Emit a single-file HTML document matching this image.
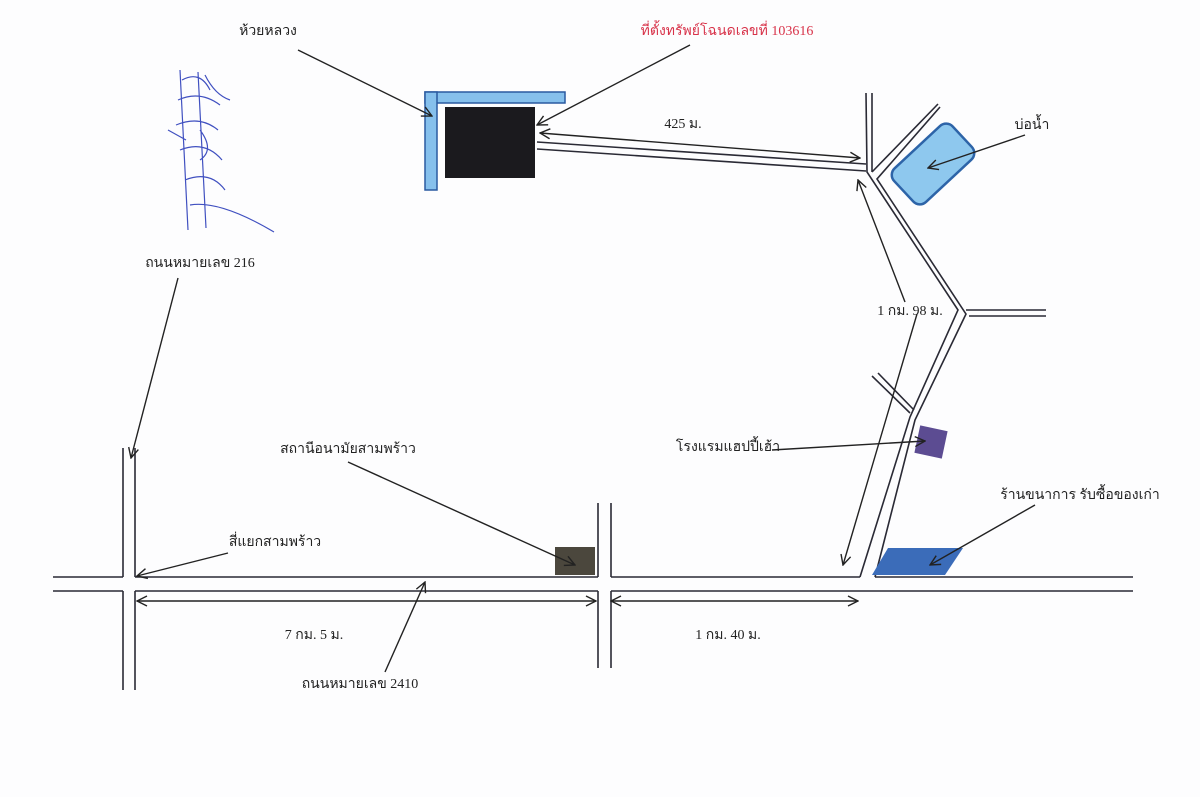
<!DOCTYPE html>
<html><head><meta charset="utf-8"><style>
html,body{margin:0;padding:0;background:#fdfdfe;}
svg{display:block}
text{font-family:"Liberation Serif","Noto Sans CJK SC",serif;font-size:14px;fill:#222}
</style></head><body>
<svg width="1200" height="797" viewBox="0 0 1200 797" xmlns="http://www.w3.org/2000/svg">
<defs>
<marker id="a" viewBox="0 0 12 12" refX="11" refY="6" markerWidth="12" markerHeight="12" markerUnits="userSpaceOnUse" orient="auto-start-reverse">
<path d="M1,1 L11,6 L1,11" fill="none" stroke="#222" stroke-width="1.4"/></marker>
</defs>
<rect width="1200" height="797" fill="#fdfdfe"/>
<g stroke="#2a2a35" stroke-width="1.6" fill="none">
<path d="M53,577H123M135,577H598M611,577H860M875,577H1133"/>
<path d="M53,591H123M135,591H598M611,591H1133"/>
<path d="M123,448V577M123,591V690M135,448V577M135,591V690"/>
<path d="M598,503V577M598,591V668M611,503V577M611,591V668"/>
<path d="M860,577L910,417L958,310L867,172L866,93"/>
<path d="M875,577L915,420L966,314L877,179L940,107"/>
<path d="M872,172L872,93M872,172L938,104"/>
<path d="M966,310H1046M969,316H1046"/>
<path d="M910,413L872,376M914,410L878,373"/>
<path d="M537,142L866,164M537,149L866,171"/>
</g>
<rect x="425" y="92" width="140" height="11" fill="#86c0ec" stroke="#2a5aa0" stroke-width="1.5"/>
<rect x="425" y="92" width="12" height="98" fill="#86c0ec" stroke="#2a5aa0" stroke-width="1.5"/>
<rect x="426" y="93" width="10" height="9" fill="#86c0ec"/>
<rect x="445" y="107" width="90" height="71" fill="#1b1a1e"/>
<g transform="translate(933 164) rotate(-43)">
<rect x="-40" y="-23" width="80" height="46" rx="9" fill="#8ec8ee" stroke="#2d64a8" stroke-width="2.5"/>
</g>
<rect x="917" y="428" width="28" height="28" fill="#5c4c92" transform="rotate(12 931 442)"/>
<polygon points="888,548 963,548 945,575 872,575" fill="#3b6cb9"/>
<rect x="555" y="547" width="40" height="28" fill="#4b473d"/>
<g stroke="#222" stroke-width="1.4" fill="none" marker-end="url(#a)">
<path d="M298,50L432,116"/>
<path d="M690,45L537,125"/>
<path d="M540,133L860,158" marker-start="url(#a)"/>
<path d="M1025,135L928,168"/>
<path d="M905,302L858,180"/>
<path d="M917,314L843,565"/>
<path d="M772,450L925,441"/>
<path d="M1035,505L930,565"/>
<path d="M178,278L131,458"/>
<path d="M348,462L575,565"/>
<path d="M228,553L137,576"/>
<path d="M137,601L596,601" marker-start="url(#a)"/>
<path d="M385,672L425,582"/>
<path d="M611,601L858,601" marker-start="url(#a)"/>
</g>
<g stroke="#4050c0" stroke-width="1.2" fill="none">
<path d="M180,70L188,230M198,72L206,228M182,80Q200,70 210,90M178,100Q200,90 220,105M176,125Q200,115 218,130M180,150Q205,140 222,160M185,180Q210,170 225,190M190,205Q220,200 274,232M205,75Q215,95 230,100M168,130L186,140M200,130Q215,150 200,160"/>
</g>
<text x="268" y="35" text-anchor="middle">ห้วยหลวง</text>
<text x="727" y="35" text-anchor="middle" style="fill:#d8334a">ที่ตั้งทรัพย์โฉนดเลขที่ 103616</text>
<text x="683" y="128" text-anchor="middle">425 ม.</text>
<text x="1032" y="129" text-anchor="middle">บ่อน้ำ</text>
<text x="910" y="315" text-anchor="middle">1 กม. 98 ม.</text>
<text x="728" y="451" text-anchor="middle">โรงแรมแฮปปี้เฮ้า</text>
<text x="1080" y="499" text-anchor="middle">ร้านขนาการ รับซื้อของเก่า</text>
<text x="200" y="267" text-anchor="middle">ถนนหมายเลข 216</text>
<text x="348" y="453" text-anchor="middle">สถานีอนามัยสามพร้าว</text>
<text x="275" y="546" text-anchor="middle">สี่แยกสามพร้าว</text>
<text x="314" y="639" text-anchor="middle">7 กม. 5 ม.</text>
<text x="360" y="688" text-anchor="middle">ถนนหมายเลข 2410</text>
<text x="728" y="639" text-anchor="middle">1 กม. 40 ม.</text>
</svg>
</body></html>
